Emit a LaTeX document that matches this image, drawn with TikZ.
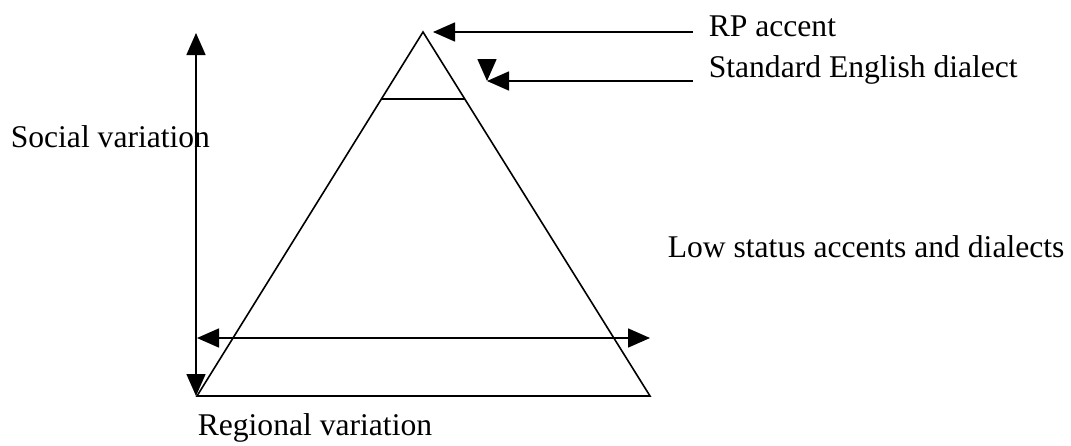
\documentclass[tikz,border=0pt]{standalone}
\usepackage{fontspec}
\setmainfont{Liberation Serif}
\usetikzlibrary{arrows.meta,calc}

\tikzset{
  label text/.style={anchor=base west,inner sep=0pt,font=\fontsize{15.8}{18}\selectfont},
  pointer/.style={-{Triangle[length=11pt,width=9.5pt]},line width=0.8pt},
  both ways/.style={{Triangle[length=11pt,width=9.5pt]}-{Triangle[length=11pt,width=9.5pt]},line width=0.8pt}
}

\begin{document}
\begin{tikzpicture}[x=0.5pt,y=-0.5pt,line width=0.8pt]
\useasboundingbox (0,0) rectangle (1071,445);
% pyramid
\coordinate (apex) at (423,32);
\coordinate (baseL) at (197,396);
\coordinate (baseR) at (650,396);
\draw (apex) -- (baseR) -- (baseL) -- cycle;
\coordinate (stdL) at ($(apex)!0.184!(baseL)$);
\coordinate (stdR) at ($(apex)!0.184!(baseR)$);
\draw (stdL) -- (stdR);
% axes
\coordinate (socTop) at (196,33);
\coordinate (socBot) at (196,396);
\draw[both ways] (socTop) -- (socBot);
\coordinate (regL) at (197,338);
\coordinate (regR) at (650,338);
\draw[both ways] (regL) -- (regR);
% labels
\node[label text] (rp) at (708,36) {RP accent};
\node[label text] (std) at (708,77) {Standard English dialect};
\node[label text] (social) at (10,147) {Social variation};
\node[label text] (low) at (667,257) {Low status accents and dialects};
\node[label text] (regional) at (197,435) {Regional variation};
% pointers
\coordinate (rpTail) at (693,32);
\coordinate (rpTip) at (433,32);
\draw[pointer] (rpTail) -- (rpTip);
\coordinate (stdTail) at (693,81);
\coordinate (stdTip) at (487,81);
\draw[pointer] (stdTail) -- (stdTip);
\coordinate (dropTop) at (487,61);
\draw[pointer] (dropTop) -- (stdTip);
\end{tikzpicture}
\end{document}
